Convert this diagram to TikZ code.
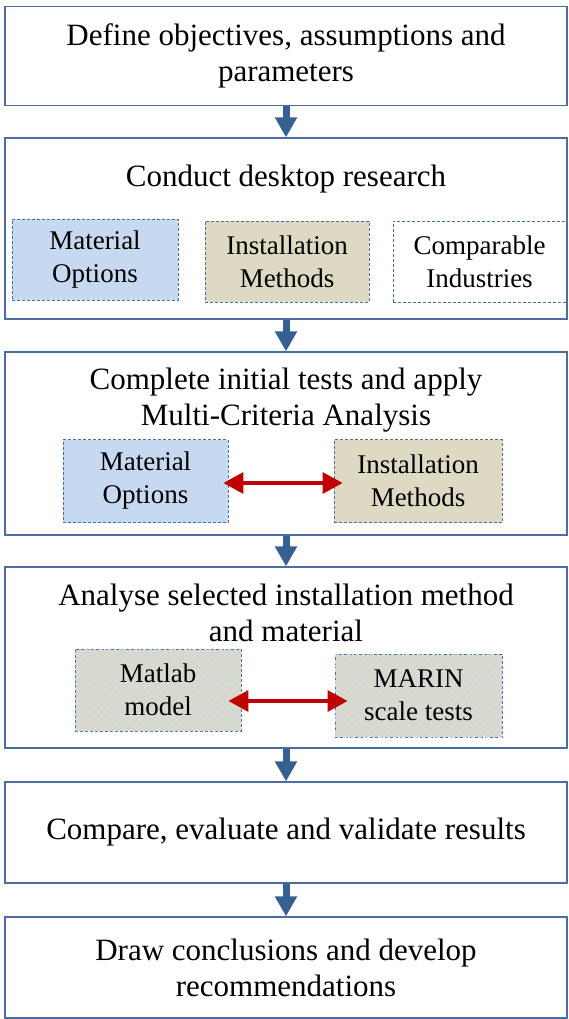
\documentclass[tikz,border=0pt]{standalone}
\usepackage{fontspec}
\setmainfont{Liberation Serif}
\usetikzlibrary{arrows.meta,patterns.meta}
\definecolor{frame}{RGB}{74,110,160}
\definecolor{arrowblue}{RGB}{54,96,146}
\definecolor{lblue}{RGB}{198,217,240}
\definecolor{beige}{RGB}{221,217,195}
\definecolor{redarrow}{RGB}{192,0,0}
\tikzset{
  stage/.style={draw=frame, line width=1.2pt, minimum width=562pt, inner sep=0pt},
  title/.style={align=center, font=\fontsize{31}{36}\selectfont, inner sep=0pt},
  sub/.style={draw=frame, line width=0.9pt, dash pattern=on 3pt off 2pt, inner sep=0pt,
    align=center, font=\fontsize{27}{33}\selectfont},
  flow/.style={draw=arrowblue, line width=7pt, -{Triangle[width=21pt,length=20pt]}},
  link/.style={draw=redarrow, line width=3.5pt, {Triangle[width=21pt,length=20pt]}-{Triangle[width=21pt,length=20pt]}},
  hatched/.style={fill=beige, postaction={pattern={Lines[angle=45,distance=5pt,line width=2.2pt]}, pattern color=lblue}}
}
\begin{document}
\begin{tikzpicture}[x=1pt,y=-1pt]
\useasboundingbox (0,0) rectangle (569,1019);
% stage boxes
\node[stage, minimum height=99pt, title] (b1) at (286,56) {Define objectives, assumptions and\\parameters};
\node[stage, minimum height=181pt] (b2) at (286,228.5) {};
\node[stage, minimum height=183pt] (b3) at (286,443.5) {};
\node[stage, minimum height=181pt] (b4) at (286,657.5) {};
\node[stage, minimum height=101pt, title] (b5) at (286,832.5) {Compare, evaluate and validate results};
\node[stage, minimum height=101pt, title] (b6) at (286,967.5) {Draw conclusions and develop\\recommendations};
% titles
\node[title] (t2) at (286,179) {Conduct desktop research};
\node[title] (t3) at (286,400.5) {Complete initial tests and apply\\Multi-Criteria Analysis};
\node[title] (t4) at (286,613) {Analyse selected installation method\\and material};
% stage 2 sub-boxes
\node[sub, fill=lblue, minimum width=166pt, minimum height=81pt] (m2) at (95,259.5) {Material\\Options};
\node[sub, fill=beige, minimum width=164pt, minimum height=81pt] (i2) at (287,261.5) {Installation\\Methods};
\node[sub, minimum width=173pt, minimum height=81pt] (c2) at (479.5,261.5) {Comparable\\Industries};
% stage 3 sub-boxes
\node[sub, fill=lblue, minimum width=165pt, minimum height=83pt] (m3) at (145.5,481) {Material\\Options};
\node[sub, fill=beige, minimum width=168pt, minimum height=83pt] (i3) at (418,481) {Installation\\Methods};
% stage 4 sub-boxes
\node[sub, hatched, minimum width=166pt, minimum height=82pt] (m4) at (158,690) {Matlab\\model};
\node[sub, hatched, minimum width=167pt, minimum height=83pt] (s4) at (418.5,695.5) {MARIN\\scale tests};
% red links
\draw[link] ([xshift=-5pt,yshift=-2pt]m3.east) -- ([xshift=9pt,yshift=-2pt]i3.west);
\draw[link] ([xshift=-13pt,yshift=-11pt]m4.east) -- ([xshift=13pt,yshift=-5.5pt]s4.west);
% flow arrows
\draw[flow] (b1.south) -- (b2.north);
\draw[flow] (b2.south) -- (b3.north);
\draw[flow] (b3.south) -- (b4.north);
\draw[flow] (b4.south) -- (b5.north);
\draw[flow] (b5.south) -- (b6.north);
\end{tikzpicture}
\end{document}
